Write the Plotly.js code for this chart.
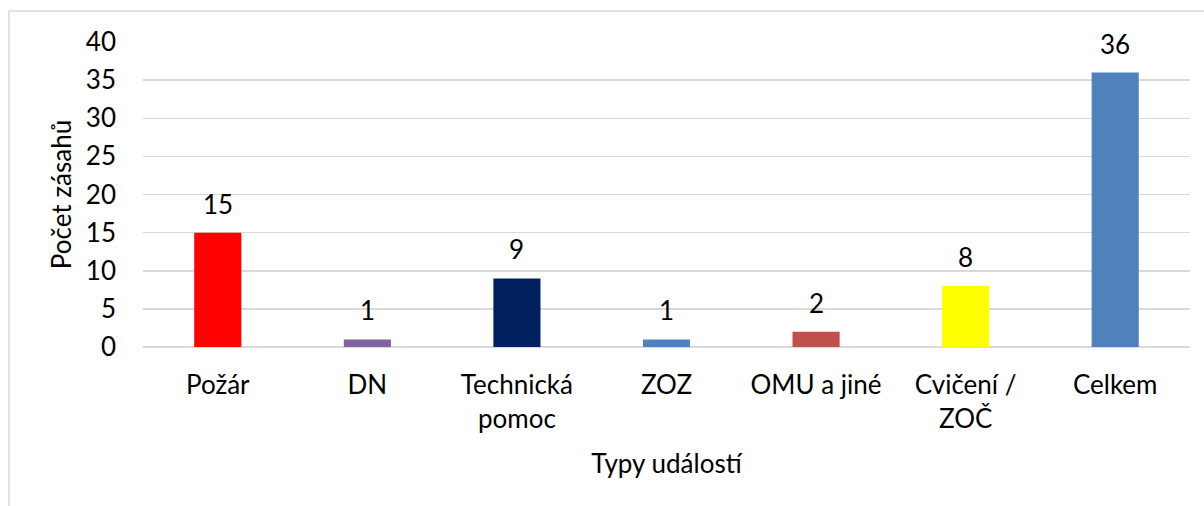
<!DOCTYPE html>
<html>
<head>
<meta charset="utf-8">
<script src="https://cdn.plot.ly/plotly-3.0.1.min.js"></script>
<style>html,body{margin:0;padding:0;background:#fff;}#chart{width:1204px;height:506px;}</style>
</head>
<body>
<div id="chart"></div>
<script>
const categories = ["Požár", "DN", "Technická pomoc", "ZOZ", "OMU a jiné", "Cvičení / ZOČ", "Celkem"];
const tickLabels = ["Požár", "DN", "Technická<br>pomoc", "ZOZ", "OMU a jiné", "Cvičení /<br>ZOČ", "Celkem"];
const values = [15, 1, 9, 1, 2, 8, 36];
const barColors = ["#FF0000", "#8064A2", "#002060", "#4F81BD", "#C0504D", "#FFFF00", "#4F81BD"];
const yTicks = [0, 5, 10, 15, 20, 25, 30, 35, 40];

const FONT = "Lato, Carlito, Calibri, sans-serif";
const FS = 26;

const trace = {
  type: "bar",
  x: categories,
  y: values,
  marker: {color: barColors},
  hoverinfo: "skip"
};

const annotations = categories.map((c, i) => ({
  x: c, y: values[i], xref: "x", yref: "y",
  text: String(values[i]), showarrow: false,
  yanchor: "middle", yshift: 29,
  font: {family: FONT, size: FS, color: "#000"}
}));

const layout = {
  width: 1204, height: 506,
  margin: {l: 143, r: 14, t: 42, b: 159, autoexpand: false},
  paper_bgcolor: "#fff", plot_bgcolor: "#fff",
  bargap: 0.685,
  showlegend: false,
  font: {family: FONT, size: FS, color: "#000"},
  xaxis: {
    type: "category",
    tickvals: categories, ticktext: tickLabels,
    showgrid: false, zeroline: false, showline: false,
    ticks: "", ticklabelstandoff: 20,
    tickfont: {family: FONT, size: FS, color: "#000"},
    title: {text: "Typy událostí", standoff: 22, font: {family: FONT, size: FS, color: "#000"}},
    automargin: false, fixedrange: true
  },
  yaxis: {
    range: [0, 40],
    tickvals: yTicks,
    showgrid: true, gridcolor: "#d9d9d9", gridwidth: 1.5,
    zeroline: true, zerolinecolor: "#d9d9d9", zerolinewidth: 1.5,
    showline: false, ticks: "", ticklabelstandoff: 26,
    tickfont: {family: FONT, size: FS, color: "#000"},
    title: {text: "Počet zásahů", standoff: 6, font: {family: FONT, size: FS, color: "#000"}},
    automargin: false, fixedrange: true
  },
  annotations: annotations,
  shapes: [{
    type: "rect", xref: "paper", yref: "paper",
    x0: (9 - 143) / 1047, x1: 1.1, y0: -0.7, y1: (347 - 11) / 305,
    line: {color: "#d9d9d9", width: 1.5}, fillcolor: "rgba(0,0,0,0)", layer: "below"
  }]
};

Plotly.newPlot("chart", [trace], layout, {displayModeBar: false, staticPlot: true});
</script>
</body>
</html>
